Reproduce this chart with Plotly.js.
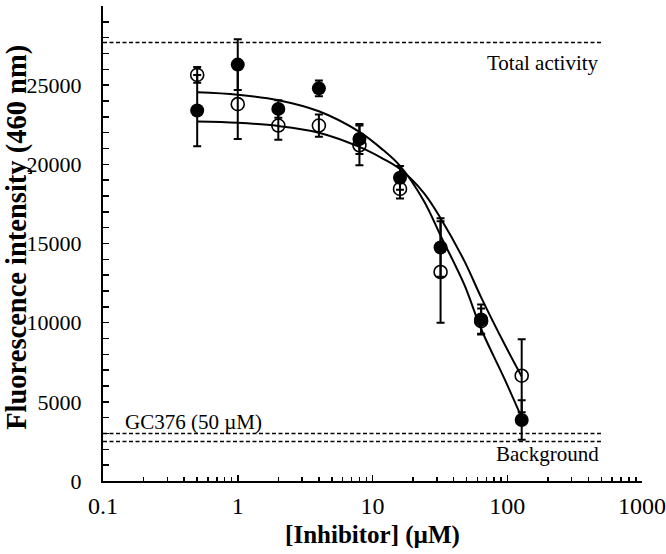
<!DOCTYPE html>
<html>
<head>
<meta charset="utf-8">
<script src="https://cdn.plot.ly/plotly-3.0.1.min.js"></script>
<style>html,body{margin:0;padding:0;background:#fff;}#chart{width:666px;height:554px;}</style>
</head>
<body>
<div id="chart"></div>
<script>
// Concentrations (µM)
var conc = [0.5, 1, 2, 4, 8, 16, 32, 64, 128];
// Filled circles series
var filledY   = [23400, 26300, 23500, 24800, 21600, 19150, 14750, 10200, 3850];
var filledErr = [2250, 1600, 550, 500, 950, 750, 1850, 950, 1250];
// Open circles series
var openY   = [25650, 23800, 22450, 22450, 21200, 18450, 13200, 10100, 6650];
var openErr = [500, 2200, 900, 700, 1250, 600, 3200, 800, 2300];
// Fitted curves
var fitX = [0.5, 1, 2, 4, 8, 12, 16, 24, 32, 48, 64, 96, 128];
var fitFilled = [24550, 24400, 24050, 23350, 22050, 20900, 19900, 17700, 15500, 12400, 9600, 6400, 4000];
var fitOpen   = [22700, 22620, 22420, 22000, 21100, 20350, 19700, 18200, 16600, 13900, 11600, 8600, 6600];
// Reference levels
var refX = [0.1, 500];
var totalActivity = 27700;
var gc376 = 3000;
var background = 2500;
// Tick labels
var xTickVals = [0.1, 1, 10, 100, 1000];
var xTickText = ['0.1', '1', '10', '100', '1000'];
var yTickVals = [0, 5000, 10000, 15000, 20000, 25000, 30000];
var yTickText = ['0', '5000', '10000', '15000', '20000', '25000', '30000'];

var black = '#000';
var traces = [
  {x: fitX, y: fitFilled, mode: 'lines', line: {color: black, width: 2, shape: 'spline'}, hoverinfo: 'skip'},
  {x: fitX, y: fitOpen, mode: 'lines', line: {color: black, width: 2, shape: 'spline'}, hoverinfo: 'skip'},
  {x: refX, y: [totalActivity, totalActivity], mode: 'lines', line: {color: black, width: 1.5, dash: '4px,2.5px'}},
  {x: refX, y: [gc376, gc376], mode: 'lines', line: {color: black, width: 1.5, dash: '4px,2.5px'}},
  {x: refX, y: [background, background], mode: 'lines', line: {color: black, width: 1.5, dash: '4px,2.5px'}},
  {x: conc, y: openY, mode: 'markers',
   error_y: {type: 'data', array: openErr, visible: true, color: black, thickness: 2, width: 4},
   marker: {symbol: 'circle-open', size: 13, color: black, line: {width: 1.6, color: black}}},
  {x: conc, y: filledY, mode: 'markers',
   error_y: {type: 'data', array: filledErr, visible: true, color: black, thickness: 2, width: 4},
   marker: {symbol: 'circle', size: 14, color: black}}
];

var serif = 'Liberation Serif, Times New Roman, serif';
var layout = {
  width: 666, height: 554,
  margin: {l: 103, r: 24, t: 6, b: 73},
  paper_bgcolor: '#fff', plot_bgcolor: '#fff',
  showlegend: false,
  font: {family: serif, size: 21, color: black},
  xaxis: {
    type: 'log', range: [-1, 3],
    tickvals: xTickVals, ticktext: xTickText,
    ticks: 'inside', ticklen: 6, tickwidth: 1.5, tickcolor: black,
    minor: {ticks: 'inside', ticklen: 4, tickwidth: 1.5, tickcolor: black, dtick: 'D1', showgrid: false},
    showline: true, linecolor: black, linewidth: 2, showgrid: false, zeroline: false,
    ticklabelstandoff: 2,
    tickfont: {family: serif, size: 24, color: black},
    title: {text: '<b>[Inhibitor] (µM)</b>', font: {family: serif, size: 25, color: black}, standoff: 8}
  },
  yaxis: {
    range: [0, 30000], tickvals: yTickVals, ticktext: yTickText,
    ticks: 'inside', ticklen: 6, tickwidth: 1.5, tickcolor: black,
    minor: {ticks: 'inside', ticklen: 6, tickwidth: 1.5, tickcolor: black, dtick: 1000, tick0: 0, showgrid: false},
    showline: true, linecolor: black, linewidth: 2, showgrid: false, zeroline: false,
    ticklabelstandoff: 15,
    tickfont: {family: serif, size: 22, color: black}
  },
  annotations: [
    {x: -0.1596, y: 0.514, xref: 'paper', yref: 'paper', text: '<b>Fluorescence intensity (460 nm)</b>', textangle: -90, showarrow: false, xanchor: 'center', yanchor: 'middle', font: {family: serif, size: 28.5, color: black}},
    {x: Math.log10(500), y: 26400, xref: 'x', yref: 'y', text: 'Total activity', showarrow: false, xanchor: 'right', yanchor: 'middle', font: {family: serif, size: 21, color: black}},
    {x: Math.log10(0.14), y: 3700, xref: 'x', yref: 'y', text: 'GC376 (50 µM)', showarrow: false, xanchor: 'left', yanchor: 'middle', font: {family: serif, size: 21, color: black}},
    {x: Math.log10(500), y: 1700, xref: 'x', yref: 'y', text: 'Background', showarrow: false, xanchor: 'right', yanchor: 'middle', font: {family: serif, size: 21, color: black}}
  ]
};
Plotly.newPlot('chart', traces, layout, {displayModeBar: false, staticPlot: true});
</script>
</body>
</html>
